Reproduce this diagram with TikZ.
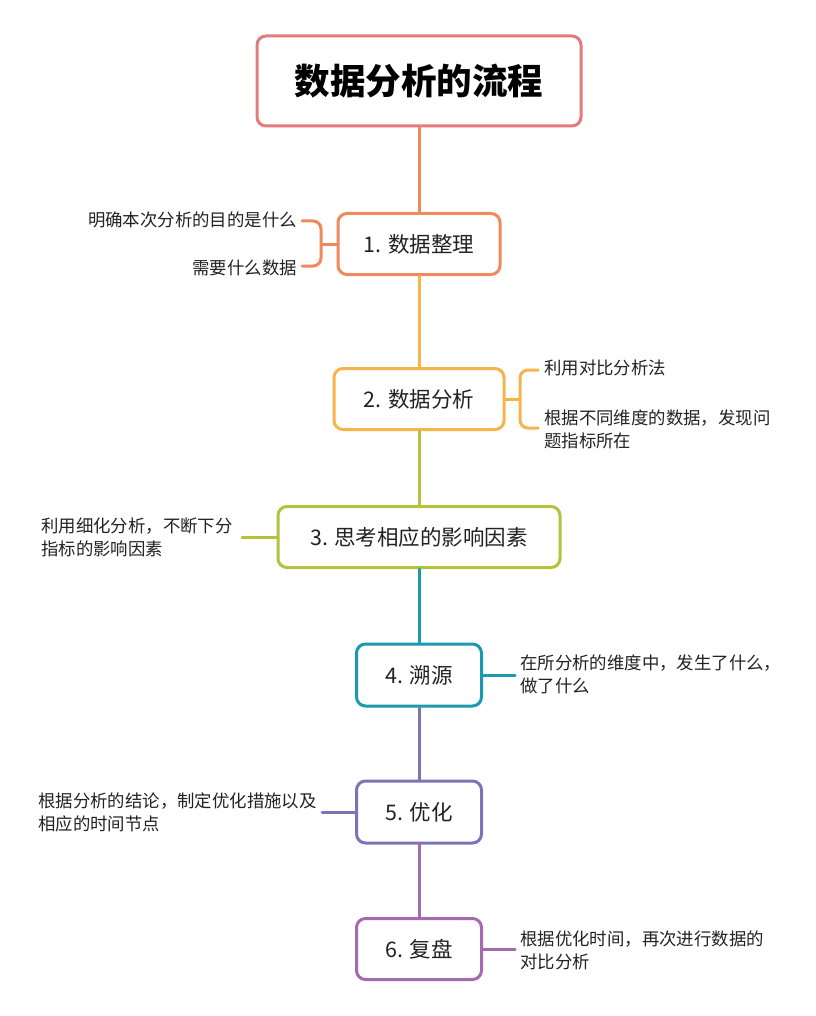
\documentclass[tikz,border=0pt]{standalone}
\usepackage{fontspec}
\setmainfont{Noto Sans CJK SC}
\definecolor{textc}{HTML}{222222}
\definecolor{c0}{HTML}{E57A7C}
\definecolor{c1}{HTML}{F08A5D}
\definecolor{c2}{HTML}{F6B54A}
\definecolor{c3}{HTML}{B6C23C}
\definecolor{c4}{HTML}{1B9AAE}
\definecolor{c5}{HTML}{7B75B8}
\definecolor{c6}{HTML}{A36BAD}
\begin{document}
\begin{tikzpicture}[x=1pt,y=-1pt,
  box/.style={draw=#1, line width=3pt, rounded corners=9pt, fill=white, inner sep=0pt,
    font=\fontsize{21.5}{26}\selectfont, text=textc},
  ln/.style={draw=#1, line width=3pt, line cap=round},
  br/.style={draw=#1, line width=3pt, line cap=round, rounded corners=8pt},
  leaf/.style={font=\fontsize{17.4}{23}\selectfont, text=textc, inner sep=0pt, align=left}]
\useasboundingbox[fill=white] (0,0) rectangle (815,1016);

% main boxes
\node[box=c0, minimum width=324pt, minimum height=90pt,
  font=\fontsize{35.5}{40}\selectfont\bfseries, text=black] (t) at (419,81) {数据分析的流程};
\node[box=c1, minimum width=162pt, minimum height=61pt] (b1) at (419,244) {1. 数据整理};
\node[box=c2, minimum width=170pt, minimum height=61pt] (b2) at (419,399) {2. 数据分析};
\node[box=c3, minimum width=282pt, minimum height=61pt] (b3) at (419,537) {3. 思考相应的影响因素};
\node[box=c4, minimum width=125pt, minimum height=62pt] (b4) at (419,675) {4. 溯源};
\node[box=c5, minimum width=125pt, minimum height=62pt] (b5) at (419,812) {5. 优化};
\node[box=c6, minimum width=125pt, minimum height=61pt] (b6) at (419,949) {6. 复盘};

% vertical connectors
\draw[ln=c1] (t.south) -- (b1.north);
\draw[ln=c2] (b1.south) -- (b2.north);
\draw[ln=c3] (b2.south) -- (b3.north);
\draw[ln=c4] (b3.south) -- (b4.north);
\draw[ln=c5] (b4.south) -- (b5.north);
\draw[ln=c6] (b5.south) -- (b6.north);

% leaves of box 1
\node[leaf, anchor=east] (l1a) at (297,220) {明确本次分析的目的是什么};
\node[leaf, anchor=east] (l1b) at (297,268) {需要什么数据};
\coordinate (k1) at (321,244);
\coordinate (e1a) at (302,221);
\coordinate (e1b) at (302,266);
\draw[ln=c1] (b1.west) -- (k1);
\draw[br=c1] (e1a) -| (k1) |- (e1b);

% leaves of box 2
\node[leaf, anchor=west] (l2a) at (544,368) {利用对比分析法};
\node[leaf, anchor=west] (l2b) at (544,429) {根据不同维度的数据，发现问\\题指标所在};
\coordinate (k2) at (520,399);
\coordinate (e2a) at (538,370);
\coordinate (e2b) at (538,428);
\draw[ln=c2] (b2.east) -- (k2);
\draw[br=c2] (e2a) -| (k2) |- (e2b);

% leaf of box 3
\node[leaf, anchor=west] (l3) at (41,537) {利用细化分析，不断下分\\指标的影响因素};
\coordinate (e3) at (242,537);
\draw[ln=c3] (b3.west) -- (e3);

% leaf of box 4
\node[leaf, anchor=west] (l4) at (520,674) {在所分析的维度中，发生了什么，\\做了什么};
\coordinate (e4) at (515,675);
\draw[ln=c4] (b4.east) -- (e4);

% leaf of box 5
\node[leaf, anchor=west] (l5) at (38,812) {根据分析的结论，制定优化措施以及\\相应的时间节点};
\coordinate (e5) at (322,812);
\draw[ln=c5] (b5.west) -- (e5);

% leaf of box 6
\node[leaf, anchor=west] (l6) at (520,950) {根据优化时间，再次进行数据的\\对比分析};
\coordinate (e6) at (515,949);
\draw[ln=c6] (b6.east) -- (e6);
\end{tikzpicture}
\end{document}
